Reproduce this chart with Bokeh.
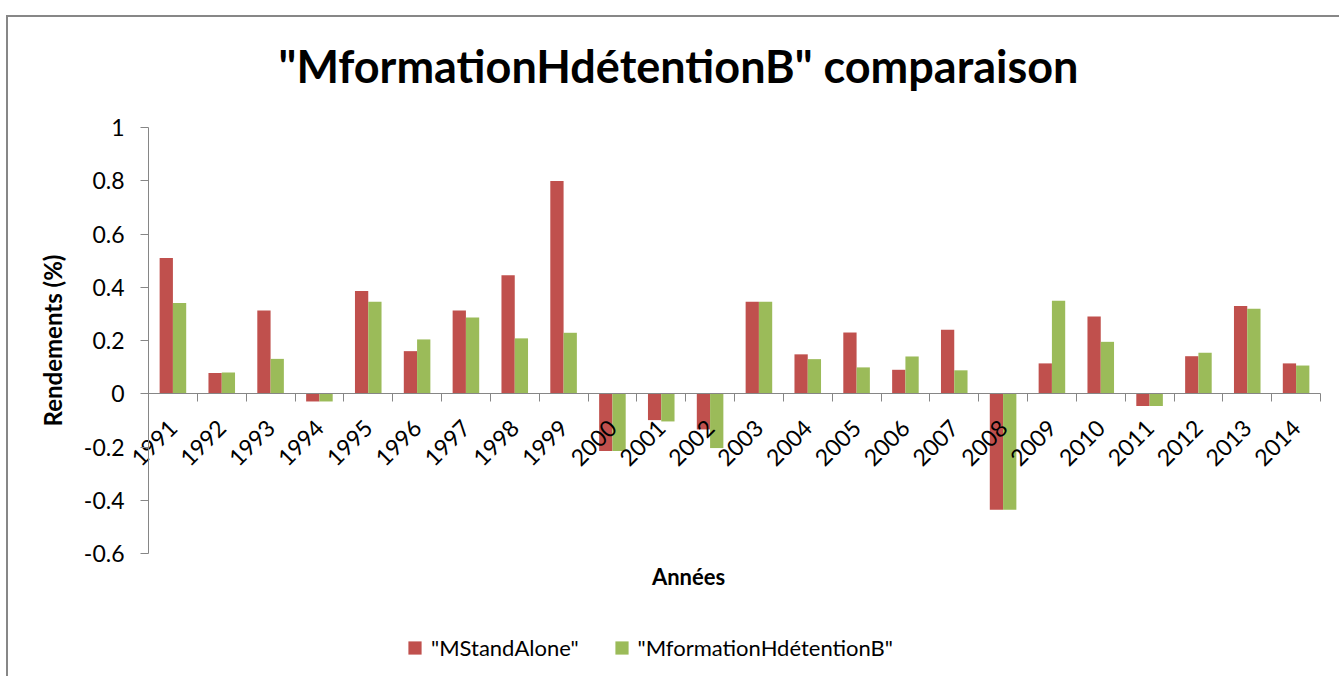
import numpy as np
from math import pi
from bokeh.plotting import figure
from bokeh.models import (Range1d, LinearAxis, FixedTicker, CustomJSTickFormatter,
                          Legend, LegendItem, Label, ColumnDataSource)
from bokeh.embed import file_html
from bokeh.resources import INLINE

# ---------------- data ----------------
years = [str(y) for y in range(1991, 2015)]
mstandalone = [0.51, 0.078, 0.313, -0.029, 0.386, 0.16, 0.313, 0.445, 0.799, -0.215,
               -0.099, -0.134, 0.346, 0.148, 0.23, 0.09, 0.24, -0.436, 0.114, 0.29,
               -0.046, 0.141, 0.33, 0.114]
mformation = [0.341, 0.08, 0.131, -0.029, 0.346, 0.204, 0.286, 0.208, 0.229, -0.215,
              -0.104, -0.204, 0.346, 0.13, 0.099, 0.14, 0.088, -0.436, 0.349, 0.195,
              -0.046, 0.154, 0.319, 0.106]
y_ticks = [-0.6, -0.4, -0.2, 0.0, 0.2, 0.4, 0.6, 0.8, 1.0]
series_names = ['"MStandAlone"', '"MformationHdétentionB"']
title_text = '"MformationHdétentionB" comparaison'
x_title = "Années"
y_title = "Rendements (%)"

# ---------------- style / layout ----------------
FONT = "Lato"
RED = "#C0504D"
GREEN = "#9BBB59"
AXIS = "#868686"
BAR_W = 0.272
W, H = 1333, 661                 # canvas size
FL, FR, FT, FB = 140, 1312, 110, 536   # plot area edges inside the canvas (px)

n = len(years)
centers = np.arange(n) + 0.5
y0, y1 = y_ticks[0], y_ticks[-1]
kx = (FR - FL) / n
ky = (FB - FT) / (y1 - y0)
x_range = Range1d(-FL / kx, (W - FL) / kx)
y_range = Range1d(y0 - (H - FB) / ky, y1 + FT / ky)

src = ColumnDataSource(dict(
    xr=centers - BAR_W / 2, xg=centers + BAR_W / 2,
    a=mstandalone, b=mformation, year=years))

p = figure(width=W, height=H, x_range=x_range, y_range=y_range,
           output_backend="svg", toolbar_location=None,
           x_axis_type=None, y_axis_type=None, min_border=0,
           outline_line_color=None)
p.styles = {"margin-top": "15px", "margin-left": "6px",
            "border-top": "2px solid #878787", "border-left": "2px solid #878787"}
p.xgrid.visible = False
p.ygrid.visible = False

p.vbar(x="xr", top="a", bottom=0, width=BAR_W, source=src,
       fill_color=RED, line_color=None)
p.vbar(x="xg", top="b", bottom=0, width=BAR_W, source=src,
       fill_color=GREEN, line_color=None)

# legend swatches (square markers, no visible points)
k1 = p.scatter(x=[np.nan], y=[np.nan], marker="square", size=13,
               fill_color=RED, line_color=None)
k2 = p.scatter(x=[np.nan], y=[np.nan], marker="square", size=13,
               fill_color=GREEN, line_color=None)

# y axis
ya = LinearAxis(fixed_location=0, bounds=(y0, y1), ticker=FixedTicker(ticks=y_ticks),
                formatter=CustomJSTickFormatter(code="return String(Number(tick.toFixed(1)))"))
ya.axis_line_color = AXIS
ya.major_tick_line_color = AXIS
ya.major_tick_out = 8
ya.major_tick_in = 0
ya.minor_tick_line_color = None
ya.major_label_text_font = FONT
ya.major_label_text_font_size = "23px"
ya.major_label_text_color = "#000000"
ya.major_label_standoff = 16
ya.axis_label = y_title
ya.axis_label_text_font = FONT
ya.axis_label_text_font_style = "bold"
ya.axis_label_text_font_size = "24px"
ya.axis_label_text_color = "#000000"
ya.axis_label_standoff = 14
p.add_layout(ya, "left")

# x axis: boundary ticks at the zero line
xb = LinearAxis(fixed_location=0, bounds=(0, n), ticker=FixedTicker(ticks=list(range(n + 1))),
                formatter=CustomJSTickFormatter(code="return ''"))
xb.axis_line_color = AXIS
xb.major_tick_line_color = AXIS
xb.major_tick_out = 8
xb.major_tick_in = 0
xb.minor_tick_line_color = None
p.add_layout(xb, "below")

# x axis: category labels
xl = LinearAxis(fixed_location=0, bounds=(0, n), ticker=FixedTicker(ticks=list(centers)),
                formatter=CustomJSTickFormatter(args=dict(labels=years),
                                                code="return labels[Math.round(tick - 0.5)] || ''"))
xl.axis_line_color = None
xl.major_tick_line_color = None
xl.minor_tick_line_color = None
xl.major_tick_out = 8
xl.major_label_orientation = pi / 4
xl.major_label_standoff = 22
xl.major_label_text_font = FONT
xl.major_label_text_font_size = "23px"
xl.major_label_text_color = "#000000"
p.add_layout(xl, "below")

# title
p.add_layout(Label(x=670, y=H - 48, x_units="screen", y_units="screen", text=title_text,
                   text_align="center", text_baseline="middle", text_font=FONT,
                   text_font_style="bold", text_font_size="45px", text_color="#000000"))

# x axis title
p.add_layout(Label(x=680, y=H - 559, x_units="screen", y_units="screen", text=x_title,
                   text_align="center", text_baseline="middle", text_font=FONT,
                   text_font_style="bold", text_font_size="22px", text_color="#000000"))

# legend
legend = Legend(items=[LegendItem(label=series_names[0], renderers=[k1]),
                       LegendItem(label=series_names[1], renderers=[k2])],
                orientation="horizontal", location=(390, 14),
                label_text_font=FONT, label_text_font_size="22px",
                label_text_color="#000000", glyph_width=33, glyph_height=33,
                spacing=26, padding=0, margin=0, label_standoff=0,
                border_line_color=None, background_fill_alpha=0)
p.add_layout(legend, "center")

open("out.html", "w").write(file_html(p, INLINE))
